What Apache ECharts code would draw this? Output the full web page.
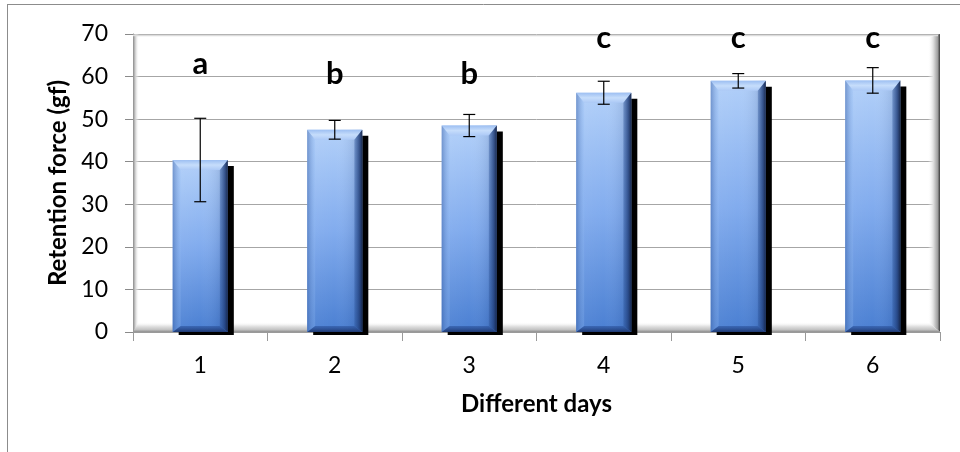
<!DOCTYPE html>
<html>
<head>
<meta charset="utf-8">
<script src="https://cdn.jsdelivr.net/npm/echarts@6/dist/echarts.min.js"></script>
<style>html,body{margin:0;padding:0;background:#fff;}#c{width:960px;height:452px;}</style>
</head>
<body>
<div id="c"></div>
<script>
// ---- data ----
var days = ['1', '2', '3', '4', '5', '6'];
var meanForce = [40.4, 47.5, 48.5, 56.2, 59.0, 59.1];
var errForce = [9.8, 2.2, 2.6, 2.7, 1.7, 3.0];
var groupLetters = ['a', 'b', 'b', 'c', 'c', 'c'];
var letterHeight = [62.9, 60.6, 60.6, 69.1, 69.1, 69.1];
var yTicks = [0, 10, 20, 30, 40, 50, 60, 70];

var FONT = 'Lato, "Open Sans", sans-serif';
var chart = echarts.init(document.getElementById('c'), null, {renderer: 'canvas'});

function lg(x1, y1, x2, y2, stops) {
  return new echarts.graphic.LinearGradient(x1, y1, x2, y2, stops.map(function (s) { return {offset: s[0], color: s[1]}; }));
}

function renderWalls(params, api) {
  var cs = params.coordSys;
  var x = cs.x, y = cs.y, w = cs.width, h = cs.height;
  var y0 = y + h;
  return {
    type: 'group',
    children: [
      {type: 'rect', shape: {x: x, y: y, width: 6, height: h},
        style: {fill: lg(0, 0, 1, 0, [[0, '#8a8a8a'], [0.35, '#c8c8c8'], [1, 'rgba(255,255,255,0)']])}},
      {type: 'polygon', shape: {points: [[x + w - 12, y + 4], [x + w, y], [x + w, y0], [x + w - 12, y0 - 10]]},
        style: {fill: lg(0, 0, 1, 0, [[0, 'rgba(255,255,255,0)'], [0.45, '#dedede'], [0.8, '#a0a0a0'], [1, '#3a3a3a']])}},
      {type: 'polygon', shape: {points: [[x + 6, y0 - 10], [x + w - 12, y0 - 10], [x + w, y0], [x, y0]]},
        style: {fill: lg(0, 0, 0, 1, [[0, 'rgba(255,255,255,0)'], [0.4, '#e4e4e4'], [0.75, '#c4c4c4'], [1, '#8e8e8e']])}},
      {type: 'line', shape: {x1: x, y1: y + 1.5, x2: x + w - 2, y2: y + 1.5},
        style: {stroke: '#dcdcdc', lineWidth: 1.5}}
    ]
  };
}

function renderBar(params, api) {
  var i = api.value(0);
  var v = api.value(1);
  var top = api.coord([i, v]);
  var base = api.coord([i, 0]);
  var bw = api.size([1, 0])[0] * 0.41;
  var xl = top[0] - bw / 2, xr = top[0] + bw / 2;
  var yt = top[1], y0 = base[1];
  var b = 10, bb = 6, bs = 8;
  return {
    type: 'group',
    children: [
      {type: 'rect', shape: {x: xl + 6, y: yt + 6, width: bw, height: y0 + 3 - (yt + 6)}, style: {fill: '#000'}},
      {type: 'rect', shape: {x: xl, y: yt, width: bw, height: y0 - yt},
        style: {fill: lg(0, 0, 0, 1, [[0, '#b2d0f9'], [0.5, '#82acee'], [1, '#4a7fd2']])}},
      {type: 'rect', shape: {x: xl, y: yt, width: bw, height: y0 - yt},
        style: {fill: lg(0, 0, 1, 0, [[0, 'rgba(255,255,255,0.05)'], [0.5, 'rgba(255,255,255,0)'], [0.8, 'rgba(20,40,90,0.08)'], [1, 'rgba(20,40,90,0.25)']])}},
      {type: 'polygon', shape: {points: [[xl, yt], [xr, yt], [xr - bs, yt + b], [xl + bs, yt + b]]},
        style: {fill: lg(0, 0, 0, 1, [[0, '#9dbff2'], [0.5, '#c6ddfb'], [1, '#acc9f6']])}},
      {type: 'polygon', shape: {points: [[xl, yt], [xl + bs, yt + b], [xl + bs, y0 - bb], [xl, y0]]},
        style: {fill: lg(0, 0, 1, 0, [[0, 'rgba(60,100,170,0.55)'], [1, 'rgba(150,190,245,0.25)']])}},
      {type: 'polygon', shape: {points: [[xr, yt], [xr, y0], [xr - bs, y0 - bb], [xr - bs, yt + b]]},
        style: {fill: lg(0, 0, 1, 0, [[0, 'rgba(40,80,150,0.35)'], [0.6, 'rgba(30,60,120,0.75)'], [1, 'rgba(20,35,70,0.95)']])}},
      {type: 'polygon', shape: {points: [[xl, y0], [xr, y0], [xr - bs, y0 - bb], [xl + bs, y0 - bb]]},
        style: {fill: lg(0, 0, 0, 1, [[0, 'rgba(45,85,160,0.6)'], [1, 'rgba(30,55,110,0.95)']])}}
    ]
  };
}

function renderErr(params, api) {
  var i = api.value(0);
  var m = api.value(1), e = api.value(2);
  var hi = api.coord([i, m + e]);
  var lo = api.coord([i, m - e]);
  var x = hi[0], c = 6;
  var st = {stroke: '#000', lineWidth: 1.2};
  return {
    type: 'group',
    children: [
      {type: 'line', shape: {x1: x, y1: hi[1], x2: x, y2: lo[1]}, style: st},
      {type: 'line', shape: {x1: x - c, y1: hi[1], x2: x + c, y2: hi[1]}, style: st},
      {type: 'line', shape: {x1: x - c, y1: lo[1], x2: x + c, y2: lo[1]}, style: st}
    ]
  };
}

function renderLetter(params, api) {
  var i = api.value(0);
  var p = api.coord([i, api.value(1)]);
  return {
    type: 'text',
    x: p[0], y: p[1],
    style: {text: groupLetters[params.dataIndex], fill: '#000', font: 'bold 31px ' + FONT, align: 'center', verticalAlign: 'middle'}
  };
}

var barData = days.map(function (d, i) { return [i, meanForce[i]]; });
var errData = days.map(function (d, i) { return [i, meanForce[i], errForce[i]]; });
var letterData = days.map(function (d, i) { return [i, letterHeight[i]]; });

chart.setOption({
  animation: false,
  backgroundColor: '#fff',
  textStyle: {fontFamily: FONT},
  grid: {left: 133, right: 20, top: 34, bottom: 120, containLabel: false},
  xAxis: {
    type: 'category',
    data: days,
    boundaryGap: true,
    name: 'Different days',
    nameLocation: 'middle',
    nameGap: 60,
    nameTextStyle: {fontSize: 24, fontWeight: 'bold', color: '#000', fontFamily: FONT},
    axisLine: {show: true, lineStyle: {color: '#9a9a9a', width: 1}},
    axisTick: {show: true, length: 9, interval: 0, lineStyle: {color: '#9a9a9a'}},
    axisLabel: {fontSize: 23, color: '#000', margin: 22, fontFamily: FONT},
    splitLine: {show: false}
  },
  yAxis: {
    type: 'value',
    min: yTicks[0],
    max: yTicks[yTicks.length - 1],
    interval: 10,
    name: 'Retention force (gf)',
    nameLocation: 'middle',
    nameGap: 62,
    nameTextStyle: {fontSize: 24, fontWeight: 'bold', color: '#000', fontFamily: FONT},
    axisLine: {show: true, lineStyle: {color: '#8a8a8a', width: 1}},
    axisTick: {show: true, length: 8, lineStyle: {color: '#8a8a8a'}},
    axisLabel: {fontSize: 23, color: '#000', margin: 25, fontFamily: FONT},
    splitLine: {show: true, lineStyle: {color: '#a6a6a6', width: 1}}
  },
  graphic: [
    {type: 'line', shape: {x1: 7, y1: 4.5, x2: 960, y2: 4.5}, style: {stroke: '#8c8c8c', lineWidth: 1}, silent: true},
    {type: 'line', shape: {x1: 7.5, y1: 4, x2: 7.5, y2: 452}, style: {stroke: '#8c8c8c', lineWidth: 1}, silent: true}
  ],
  series: [
    {type: 'custom', name: 'walls', renderItem: renderWalls, data: [[0, 0]], z: 1, silent: true, clip: false},
    {type: 'custom', name: 'Retention force', renderItem: renderBar, data: barData, z: 2, clip: false},
    {type: 'custom', name: 'SD', renderItem: renderErr, data: errData, z: 3, clip: false},
    {type: 'custom', name: 'letters', renderItem: renderLetter, data: letterData, z: 4, clip: false}
  ]
});
</script>
</body>
</html>
